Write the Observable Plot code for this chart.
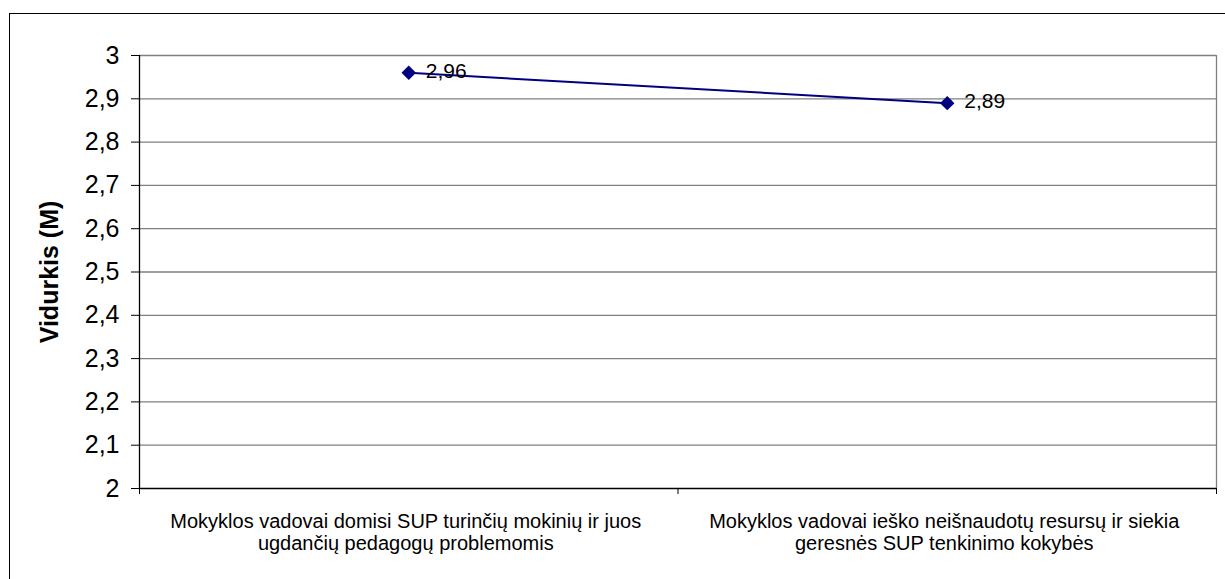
<!DOCTYPE html>
<html>
<head>
<meta charset="utf-8">
<script src="https://cdn.jsdelivr.net/npm/d3@7"></script>
<script src="https://cdn.jsdelivr.net/npm/@observablehq/plot@0.6"></script>
<style>
  html, body { margin: 0; padding: 0; background: #fff; overflow: hidden; }
  #wrap { position: relative; width: 1225px; height: 579px; overflow: hidden; }
  #frame { position: absolute; left: 9px; top: 13px; width: 1400px; height: 800px; border: 1px solid #000; pointer-events: none; }
</style>
</head>
<body>
<div id="wrap"><div id="chart"></div><div id="frame"></div></div>
<script>
const categories = [
  "Mokyklos vadovai domisi SUP turinčių mokinių ir juos\nugdančių pedagogų problemomis",
  "Mokyklos vadovai ieško neišnaudotų resursų ir siekia\ngeresnės SUP tenkinimo kokybės"
];
const values = [2.96, 2.89];
const valueLabels = ["2,96", "2,89"];
const yTicks = [2, 2.1, 2.2, 2.3, 2.4, 2.5, 2.6, 2.7, 2.8, 2.9, 3];
const xBoundaries = [0, 1, 2];
const yTitle = "Vidurkis (M)";

const data = categories.map((c, i) => ({ i: i + 0.5, cat: c, value: values[i], label: valueLabels[i] }));
const fmt = d => String(Math.round(d * 10) / 10).replace(".", ",");
const font = "'Liberation Sans', Arial, sans-serif";

const chart = Plot.plot({
  width: 1225,
  height: 579,
  marginLeft: 139,
  marginRight: 9,
  marginTop: 55,
  marginBottom: 91,
  style: { fontFamily: font, background: "transparent", color: "#000" },
  x: { domain: [0, 2], axis: null },
  y: { domain: [2, 3], axis: null },
  marks: [
    Plot.ruleY(yTicks.filter(t => t > 2), { stroke: "#808080", strokeWidth: 1.3 }),
    Plot.ruleX([xBoundaries[xBoundaries.length - 1]], { stroke: "#808080", strokeWidth: 1.3 }),
    Plot.ruleX([xBoundaries[0]], { stroke: "#000", strokeWidth: 1.3 }),
    Plot.ruleY([yTicks[0]], { stroke: "#000", strokeWidth: 1.3 }),
    Plot.axisY({ ticks: yTicks, tickSize: 8, tickPadding: 12, tickFormat: fmt, fontSize: 25, label: null, stroke: "#000" }),
    Plot.axisX({ ticks: xBoundaries, tickSize: 6, tickFormat: () => "", label: null, stroke: "#000" }),
    Plot.text(data, { x: "i", y: () => yTicks[0], text: "cat", lineAnchor: "top", dy: 24, dx: -3, lineHeight: 1.1, fontSize: 20, fill: "#000" }),
    Plot.text([yTitle], { frameAnchor: "left", textAnchor: "middle", rotate: -90, dx: -90, fontWeight: "bold", fontSize: 25, fill: "#000" }),
    Plot.line(data, { x: "i", y: "value", stroke: "#000080", strokeWidth: 2 }),
    Plot.dot(data, { x: "i", y: "value", symbol: "diamond2", r: 6.5, fill: "#000080", stroke: "none" }),
    Plot.text(data, { x: "i", y: "value", text: "label", textAnchor: "start", dx: 17, dy: -2, fontSize: 21, fill: "#000" })
  ]
});
document.getElementById("chart").appendChild(chart);
</script>
</body>
</html>
